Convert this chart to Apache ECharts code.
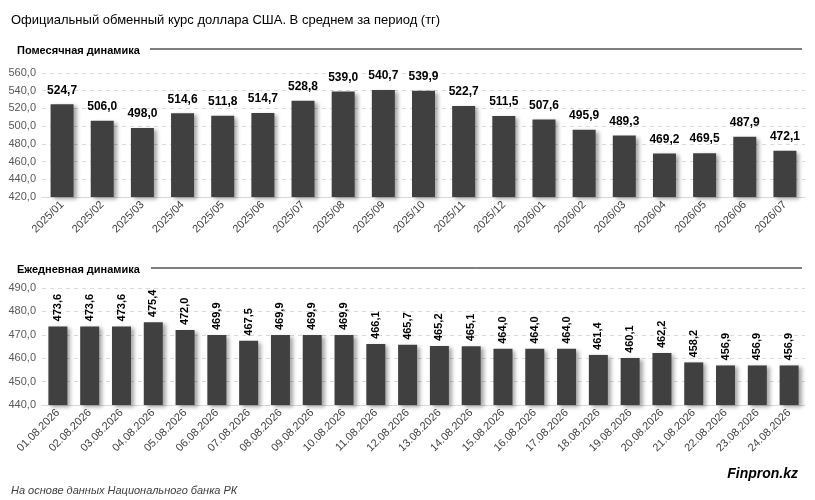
<!DOCTYPE html>
<html>
<head>
<meta charset="utf-8">
<script src="https://cdn.jsdelivr.net/npm/echarts@6/dist/echarts.min.js"></script>
<style>html,body{margin:0;padding:0;background:#fff}#main{width:815px;height:500px}</style>
</head>
<body>
<div id="main"></div>
<script>
var monthCats = ['2025/01','2025/02','2025/03','2025/04','2025/05','2025/06','2025/07','2025/08','2025/09','2025/10','2025/11','2025/12','2026/01','2026/02','2026/03','2026/04','2026/05','2026/06','2026/07'];
var monthVals = [524.7,506.0,498.0,514.6,511.8,514.7,528.8,539.0,540.7,539.9,522.7,511.5,507.6,495.9,489.3,469.2,469.5,487.9,472.1];
var dayCats = ['01.08.2026','02.08.2026','03.08.2026','04.08.2026','05.08.2026','06.08.2026','07.08.2026','08.08.2026','09.08.2026','10.08.2026','11.08.2026','12.08.2026','13.08.2026','14.08.2026','15.08.2026','16.08.2026','17.08.2026','18.08.2026','19.08.2026','20.08.2026','21.08.2026','22.08.2026','23.08.2026','24.08.2026'];
var dayVals = [473.6,473.6,473.6,475.4,472.0,469.9,467.5,469.9,469.9,469.9,466.1,465.7,465.2,465.1,464.0,464.0,464.0,461.4,460.1,462.2,458.2,456.9,456.9,456.9];

var fmt = function (v) { return Number(v).toFixed(1).replace('.', ','); };
var font = 'Liberation Sans';
var chart = echarts.init(document.getElementById('main'));

function yAxis(idx, min, max, step) {
  return {
    gridIndex: idx, type: 'value', min: min, max: max, interval: step,
    axisLine: { show: false }, axisTick: { show: false },
    axisLabel: { formatter: fmt, color: '#595959', fontSize: 11, fontFamily: font, margin: 6 },
    splitLine: { lineStyle: { type: [4, 4], color: '#d9d9d9' } }
  };
}
function xAxis(idx, cats, rot) {
  return {
    gridIndex: idx, type: 'category', data: cats,
    axisLine: { lineStyle: { color: '#d9d9d9' } }, axisTick: { show: false },
    axisLabel: { rotate: rot, color: '#404040', fontSize: 11, fontFamily: font, margin: 6, interval: 0 }
  };
}
var barStyle = { color: '#404040', shadowColor: 'rgba(0,0,0,0.35)', shadowBlur: 4, shadowOffsetX: 3, shadowOffsetY: 2 };

chart.setOption({
  animation: false,
  textStyle: { fontFamily: font },
  title: [
    { text: 'Официальный обменный курс доллара США. В среднем за период (тг)', left: 6, top: 9,
      textStyle: { fontSize: 13, fontWeight: 'normal', color: '#000', fontFamily: font } },
    { text: 'Помесячная динамика', left: 12, top: 40, textStyle: { fontSize: 11, fontWeight: 'bold', color: '#000', fontFamily: font } },
    { text: 'Ежедневная динамика', left: 12, top: 259, textStyle: { fontSize: 11, fontWeight: 'bold', color: '#000', fontFamily: font } },
    { text: 'На основе данных Национального банка РК', left: 6, top: 480, textStyle: { fontSize: 11, fontStyle: 'italic', fontWeight: 'normal', color: '#404040', fontFamily: font } },
    { text: 'Finpron.kz', right: 12, top: 462, textStyle: { fontSize: 14, fontStyle: 'italic', fontWeight: 'bold', color: '#000', fontFamily: font } }
  ],
  graphic: [
    { type: 'line', shape: { x1: 150, y1: 49, x2: 802, y2: 49 }, style: { stroke: '#000', lineWidth: 1 } },
    { type: 'line', shape: { x1: 151, y1: 268, x2: 802, y2: 268 }, style: { stroke: '#000', lineWidth: 1 } }
  ],
  grid: [
    { left: 42, right: 10, top: 73, height: 124 },
    { left: 42, right: 10, top: 288, height: 117 }
  ],
  xAxis: [xAxis(0, monthCats, 45), xAxis(1, dayCats, 45)],
  yAxis: [yAxis(0, 420, 560, 20), yAxis(1, 440, 490, 10)],
  series: [
    { type: 'bar', xAxisIndex: 0, yAxisIndex: 0, data: monthVals, barWidth: 23, itemStyle: barStyle,
      label: { show: true, position: 'top', distance: 8, formatter: function (p) { return fmt(p.value); },
        color: '#000', fontWeight: 'bold', fontSize: 12, fontFamily: font } },
    { type: 'bar', xAxisIndex: 1, yAxisIndex: 1, data: dayVals, barWidth: 19, itemStyle: barStyle,
      label: { show: true, position: 'top', rotate: 90, align: 'left', verticalAlign: 'middle', distance: 5,
        formatter: function (p) { return fmt(p.value); }, color: '#000', fontWeight: 'bold', fontSize: 11, fontFamily: font } }
  ]
});
</script>
</body>
</html>
